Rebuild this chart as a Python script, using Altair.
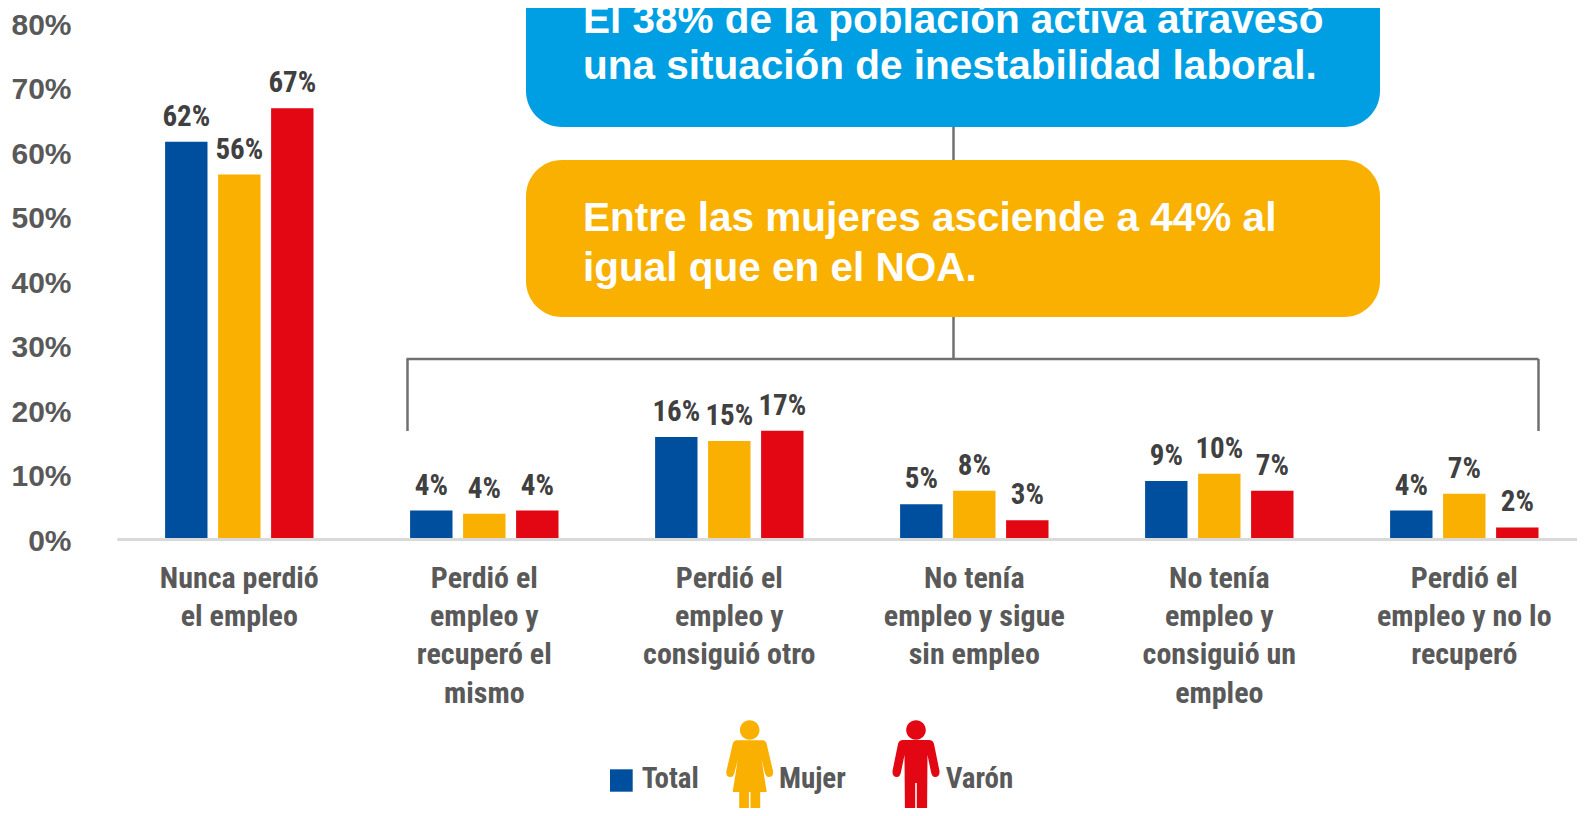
import altair as alt
import pandas as pd

categorias = ["Nunca perdió\nel empleo", "Perdió el\nempleo y\nrecuperó el\nmismo", "Perdió el\nempleo y\nconsiguió otro",
              "No tenía\nempleo y sigue\nsin empleo", "No tenía\nempleo y\nconsiguió un\nempleo", "Perdió el\nempleo y no lo\nrecuperó"]
series = ["Total", "Mujer", "Varón"]
total = [61.6, 4.4, 15.8, 5.4, 9.0, 4.4]
mujer = [56.5, 3.9, 15.2, 7.5, 10.1, 7.0]
varon = [66.8, 4.4, 16.8, 2.9, 7.5, 1.8]
et_total = ["62%", "4%", "16%", "5%", "9%", "4%"]
et_mujer = ["56%", "4%", "15%", "8%", "10%", "7%"]
et_varon = ["67%", "4%", "17%", "3%", "7%", "2%"]
colores = ["#004f9f", "#f9b000", "#e30613"]
CELESTE = "#009fe3"
GRIS = "#595959"
GRIS_OSC = "#404040"
LINEA = "#707070"
NARROW = "Roboto Condensed"
SANS = "Liberation Sans"

filas = []
for s, vals, ets in zip(series, [total, mujer, varon], [et_total, et_mujer, et_varon]):
    for c, v, e in zip(categorias, vals, ets):
        filas.append({"cat": c, "serie": s, "valor": v, "etiqueta": e})
df = pd.DataFrame(filas)

x = alt.X("cat:N", sort=categorias, title=None,
          scale=alt.Scale(range=[108.8, 1578.8], paddingInner=0.351, paddingOuter=0.1755),
          axis=alt.Axis(labelExpr="split(datum.label, '\\n')", labelAngle=0, labelFont=NARROW, labelFontWeight="bold",
                        labelFontSize=30, labelColor=GRIS, labelLineHeight=38.4, labelPadding=24, labelLimit=500,
                        labelOverlap=False, labelBound=False, labelFlush=False, labelAlign="center", labelBaseline="top",
                        ticks=False, domainColor="#d9d9d9", domainWidth=3, offset=-269, zindex=1))
xo = alt.XOffset("serie:N", sort=series, scale=alt.Scale(domain=series, paddingInner=0.2, paddingOuter=0.1))
y = alt.Y("valor:Q", title=None,
          scale=alt.Scale(domain=[0, 80], range=[531, 15], nice=False),
          axis=alt.Axis(values=[0, 10, 20, 30, 40, 50, 60, 70, 80], labelExpr="datum.value + '%'", labelFont=SANS,
                        labelFontWeight="bold", labelFontSize=30, labelColor=GRIS, labelPadding=0, labelAlign="right",
                        labelBaseline="middle", labelBound=False, labelOverlap=False, labelFlush=False, labelOffset=2,
                        ticks=False, domain=False, grid=False, offset=-63))
color = alt.Color("serie:N", scale=alt.Scale(domain=series, range=colores), legend=None)

barras = alt.Chart(df).mark_bar().encode(x=x, xOffset=xo, y=y, color=color)
rotulos = alt.Chart(df).mark_text(font=NARROW, fontWeight="bold", fontSize=29, color=GRIS_OSC, baseline="middle", dy=-25).encode(
    x=x, xOffset=xo, y=y, text="etiqueta:N")


def caja(x1, x2, y1, y2, col):
    return alt.Chart().mark_rect(color=col, cornerRadius=36).encode(
        x=alt.value(x1), x2=alt.value(x2), y=alt.value(y1), y2=alt.value(y2))


def regla(x1, x2, y1, y2, w=2.5):
    return alt.Chart().mark_rule(color=LINEA, strokeWidth=w).encode(
        x=alt.value(x1), x2=alt.value(x2), y=alt.value(y1), y2=alt.value(y2))


def texto(t, px, py, size, col, font=SANS, align="left", baseline="alphabetic"):
    return alt.Chart().mark_text(text=t, font=font, fontWeight="bold", fontSize=size, color=col, align=align, baseline=baseline).encode(
        x=alt.value(px), y=alt.value(py))


def figura(path, px, py, col):
    return alt.Chart().mark_point(shape=path, size=4, filled=True, fill=col, stroke=None, opacity=1).encode(
        x=alt.value(px), y=alt.value(py))


CABEZA = "M-9.8 0a9.8 9.8 0 1 0 19.6 0a9.8 9.8 0 1 0 -19.6 0Z"
MUJER = CABEZA + ("M-13 10.3L13 10.3Q16 10.3 17 14L23.3 41Q24 47 19 47Q16 47 15 42L12 30L17 62L10.5 62L10.5 90L0.8 90L0.8 62"
                  "L-0.8 62L-0.8 90L-10.5 90L-10.5 62L-17 62L-12 30L-15 42Q-16 47 -19 47Q-24 47 -23.3 41L-17 14Q-16 10.3 -13 10.3Z")
VARON = CABEZA + ("M-13 10L13 10Q17 10 18 14L23.5 41Q24 47 19 47Q16 47 15 42L11.5 25L11 90L0.8 90L0.8 53L-0.8 53L-0.8 90L-11 90"
                  "L-11.5 25L-15 42Q-16 47 -19 47Q-24 47 -23.5 41L-18 14Q-17 10 -13 10Z")

capas = [
    regla(945.5, 945.5, 115, 155),
    regla(945.5, 945.5, 305, 351),
    regla(398.5, 1530.5, 351, 351),
    regla(399.5, 399.5, 351, 423),
    regla(1530.5, 1530.5, 351, 423),
    caja(518, 1372, -60, 119, CELESTE),
    caja(518, 1372, 152, 309, colores[1]),
    texto("El 38% de la población activa atravesó", 575, 25, 40.5, "white"),
    texto("una situación de inestabilidad laboral.", 575, 71, 40.5, "white"),
    texto("Entre las mujeres asciende a 44% al", 575, 222.7, 40.5, "white"),
    texto("igual que en el NOA.", 575, 272.7, 40.5, "white"),
    barras,
    rotulos,
    alt.Chart().mark_rect(color=colores[0]).encode(x=alt.value(602), x2=alt.value(624.7), y=alt.value(761.3), y2=alt.value(783.7)),
    texto("Total", 633.7, 771, 29, GRIS, NARROW, baseline="middle"),
    figura(MUJER, 741.7, 722, colores[1]),
    texto("Mujer", 771, 771, 29, GRIS, NARROW, baseline="middle"),
    figura(VARON, 908, 722, colores[2]),
    texto("Varón", 937.7, 771, 29, GRIS, NARROW, baseline="middle"),
]

chart = alt.layer(*capas).properties(
    width=1569, height=800, padding=0,
    autosize=alt.AutoSizeParams(type="none"), background="white",
).configure_view(stroke=None)

chart.save("out.html", embed_options={"renderer": "svg", "actions": False})
